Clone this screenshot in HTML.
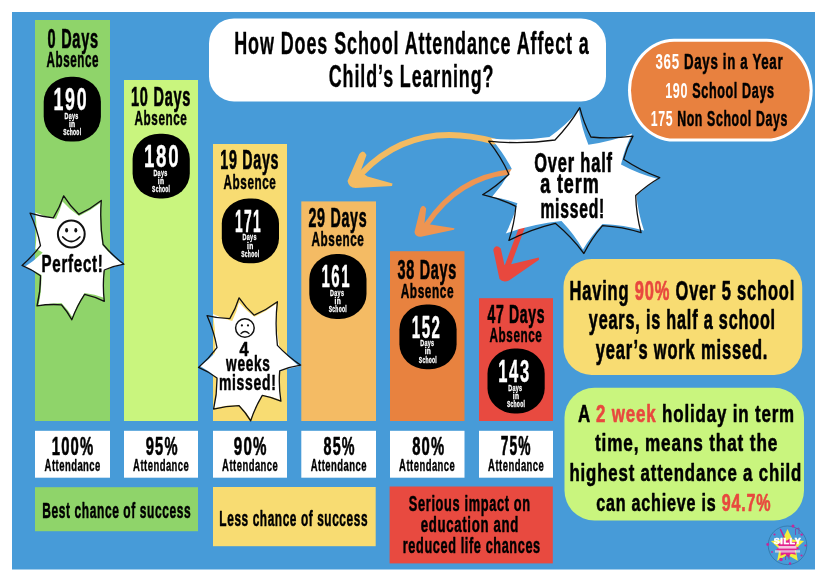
<!DOCTYPE html>
<html><head><meta charset="utf-8"><style>
html,body{margin:0;padding:0;background:#fff;width:827px;height:582px;overflow:hidden}
svg{display:block;will-change:transform}
text{font-family:"Liberation Sans",sans-serif;font-weight:bold;stroke-linejoin:round;paint-order:stroke}
</style></head><body>
<svg width="827" height="582" viewBox="0 0 827 582">
<rect x="0" y="0" width="827" height="582" fill="#fff"/>
<rect x="12" y="12" width="803" height="557.5" fill="#479bd8"/>
<!-- columns -->
<rect x="35" y="20" width="75" height="401" fill="#8fd46a"/>
<rect x="124" y="80" width="74" height="341" fill="#c9f57e"/>
<rect x="213" y="144" width="74" height="277" fill="#f8dc72"/>
<rect x="301.3" y="201.4" width="74.7" height="219.6" fill="#f4bb64"/>
<rect x="390" y="251.2" width="74.5" height="169.8" fill="#e8823f"/>
<rect x="479" y="298.2" width="74" height="122.8" fill="#e84a40"/>
<!-- attendance boxes -->
<rect x="35" y="430.8" width="75" height="46.9" fill="#fff"/>
<rect x="124" y="430.8" width="74" height="46.9" fill="#fff"/>
<rect x="213" y="430.8" width="74" height="46.9" fill="#fff"/>
<rect x="301.3" y="430.8" width="74.7" height="46.9" fill="#fff"/>
<rect x="390" y="430.8" width="74.5" height="46.9" fill="#fff"/>
<rect x="479" y="430.8" width="74" height="46.9" fill="#fff"/>
<!-- labels -->
<rect x="35" y="487.2" width="163" height="44" fill="#8fd46a"/>
<rect x="213" y="487" width="162.7" height="59.2" fill="#f8dc72"/>
<rect x="389.6" y="486.5" width="163.2" height="76.9" fill="#e84a40"/>
<!-- title -->
<rect x="209" y="18.4" width="397" height="83" rx="25" fill="#fff"/>
<!-- pill -->
<rect x="628" y="38.8" width="184.7" height="102.8" rx="46" ry="51.4" fill="#fff"/>
<rect x="631" y="41.8" width="178.7" height="96.8" rx="43" ry="48.4" fill="#e8813f"/>
<!-- info boxes -->
<rect x="563.5" y="259" width="238.7" height="116" rx="28" fill="#f8dc72"/>
<rect x="564.5" y="387.7" width="239.5" height="132.8" rx="30" fill="#c9f57e"/>

<path d="M494,141.5 Q413.2,119.3 362,173" fill="none" stroke="#f3bb62" stroke-width="6" stroke-linecap="round"/><path d="M359.3,154 Q363.5,148.5 366.5,155 L360.5,171.5 L367.5,176.5 L392.5,183.5 L392,186 L355.5,188 Q349,188 347.5,181 Z" fill="#f3bb62"/><path d="M510.5,171.8 Q458,177.5 427,224" fill="none" stroke="#ee9552" stroke-width="5.2" stroke-linecap="round"/><path d="M420.3,208.5 Q423,203 426.2,208.5 L424.5,223 L430.5,224.5 L454.5,228.2 L454,229.8 L421,236.8 Q415,237 414.5,232 Z" fill="#ee9552"/><path d="M524,222 L507.5,266" fill="none" stroke="#e8483e" stroke-width="5.6" stroke-linecap="round"/><path d="M493.3,250 Q495.5,243.5 500.8,248.5 L504.5,265 L512,264 L538.8,257.6 L539,259.8 L509,280.5 Q503,283 499.5,279 Z" fill="#e8483e"/>
<path d="M578.9,110.3 Q581.6,128.1 588.4,144.7 Q611.0,141.7 632.2,133.5 Q624.7,148.3 621.0,164.5 Q638.6,174.0 658.0,179.0 Q646.3,186.0 636.5,195.5 Q638.1,213.4 644.0,230.5 Q623.6,224.8 602.5,224.0 Q591.2,235.6 583.0,249.5 Q574.0,234.0 561.5,221.0 Q532.9,223.9 505.8,233.4 Q513.4,219.0 517.4,203.2 Q505.0,198.6 491.9,197.1 Q503.5,184.1 511.7,168.7 Q503.2,152.4 491.0,138.5 Q520.3,141.3 549.4,137.1 Q565.8,125.5 578.9,110.3Z" fill="#fff"/><path d="M579.8,107.7 Q583.6,123.0 590.9,137.0 Q612.0,139.1 633.0,136.1 Q626.9,147.1 623.6,159.3 Q640.5,170.7 659.7,177.7 Q646.6,185.2 635.7,195.5 Q636.2,214.4 641.1,232.6 Q622.2,226.8 602.5,225.6 Q591.5,238.4 583.9,253.5 Q571.4,236.7 555.3,223.3 Q531.1,229.1 508.9,240.4 Q514.4,223.8 515.9,206.3 Q499.9,198.5 482.6,194.7 Q497.0,186.0 508.9,174.2 Q500.8,156.5 488.7,141.2 Q521.9,144.6 555.0,140.0 Q569.3,125.3 579.8,107.7Z" fill="none" stroke="#111" stroke-width="1.3" stroke-linejoin="round"/>
<path d="M62.5,201.4 Q69.9,209.7 79.0,216.0 Q90.6,210.6 100.6,202.7 Q98.9,224.0 102.3,245.0 Q111.3,255.8 122.6,264.2 Q112.6,266.5 103.5,271.0 Q102.1,284.4 104.0,297.8 Q94.6,294.2 84.6,293.0 Q77.0,304.3 72.3,317.0 Q67.7,309.3 61.4,303.0 Q49.8,303.1 38.5,306.0 Q41.9,290.7 41.5,275.0 Q33.5,270.0 24.5,267.0 Q34.5,260.8 42.7,252.4 Q39.3,250.3 35.4,249.0 Q37.6,230.8 35.4,212.5 Q45.3,216.9 55.9,218.9 Q60.2,210.5 62.5,201.4Z" fill="#fff"/><path d="M63.7,195.8 Q70.1,206.0 78.8,214.3 Q90.9,208.7 101.3,200.4 Q99.6,222.6 103.1,244.5 Q112.4,255.6 124.0,264.2 Q113.8,265.9 104.3,270.0 Q102.4,285.6 104.3,301.3 Q94.9,296.6 84.6,294.3 Q76.7,306.3 71.8,319.8 Q67.5,311.7 61.4,304.8 Q49.1,303.9 37.0,305.9 Q40.6,291.1 40.5,275.8 Q31.9,269.5 22.0,265.4 Q32.4,256.6 40.5,245.6 Q37.2,228.8 30.1,213.2 Q41.4,216.9 53.3,217.8 Q59.8,207.4 63.7,195.8Z" fill="none" stroke="#111" stroke-width="1.3" stroke-linejoin="round"/>
<path d="M239.0,302.5 Q245.8,310.5 254.4,316.7 Q266.2,311.5 276.4,303.7 Q275.3,325.0 279.2,346.0 Q287.9,357.3 299.0,366.2 Q288.7,367.9 279.0,372.0 Q278.3,386.1 281.0,400.0 Q271.9,396.4 262.3,395.0 Q255.1,406.3 250.7,419.0 Q245.7,411.3 239.1,405.0 Q226.4,405.0 214.0,408.0 Q217.3,393.2 217.0,378.0 Q209.2,371.0 200.0,366.0 Q208.3,360.4 215.0,353.0 Q216.3,333.4 213.0,314.0 Q222.2,318.6 232.2,320.9 Q236.7,312.1 239.0,302.5Z" fill="#fff"/><path d="M239.1,297.8 Q245.6,307.4 254.2,315.2 Q266.6,309.8 277.4,301.7 Q274.8,323.5 277.4,345.4 Q287.8,356.6 300.6,365.1 Q289.8,366.7 279.7,370.9 Q278.5,386.1 280.9,401.1 Q271.9,397.1 262.3,395.3 Q255.0,407.4 250.7,420.8 Q245.8,412.6 239.1,405.7 Q226.1,405.9 213.6,409.2 Q217.2,393.8 217.0,377.9 Q208.4,371.5 198.5,367.4 Q208.9,358.7 217.0,347.7 Q214.0,331.1 207.1,315.7 Q218.3,318.6 229.8,318.7 Q235.7,308.8 239.1,297.8Z" fill="none" stroke="#111" stroke-width="1.3" stroke-linejoin="round"/>
<circle cx="71.3" cy="234" r="13.4" fill="none" stroke="#111" stroke-width="2"/><ellipse cx="66.6" cy="230.2" rx="1.5" ry="2.2" fill="#111"/><ellipse cx="75.8" cy="230.2" rx="1.5" ry="2.2" fill="#111"/><path d="M62.8,237 Q71.3,246 79.8,237" fill="none" stroke="#111" stroke-width="1.8" stroke-linecap="round"/><circle cx="244.9" cy="328" r="9.3" fill="none" stroke="#111" stroke-width="1.5"/><circle cx="241.9" cy="325.4" r="1.1" fill="#111"/><circle cx="248" cy="325.4" r="1.1" fill="#111"/><path d="M241,333.5 Q245,329.5 249,333.5" fill="none" stroke="#111" stroke-width="1.3" stroke-linecap="round"/>
<circle cx="787.5" cy="545.3" r="19.3" fill="none" stroke="#2f6e9e" stroke-width="0.7"/><path d="M787.5,529.0 L792.5,539.6 L804.1,541.1 L795.6,549.1 L797.8,560.7 L787.5,555.0 L777.2,560.7 L779.4,549.1 L770.9,541.1 L782.5,539.6Z" fill="#f4ee3c"/><path d="M799.4,548.5 L794.7,550.5 L795.9,554.8 L790.8,553.7 L788.4,557.7 L785.3,554.0 L780.5,555.8 L780.9,551.3 L775.9,550.0 L779.5,546.8 L776.7,543.1 L781.9,542.6 L782.6,538.2 L786.9,540.7 L790.8,537.7 L792.2,542.0 L797.4,541.8 L795.3,545.8Z" fill="#e3238e"/><text x="787.5" y="543.8" text-anchor="middle" font-family="Liberation Sans" font-weight="bold" font-size="8.5" fill="#fff" stroke="#fff" stroke-width="0.6" transform="translate(787.5 0) scale(1.05 1) translate(-787.5 0)" letter-spacing="0.6">SILLY</text><rect x="778.5" y="546" width="18" height="2.6" fill="#f7d6ea" opacity="0.9"/><rect x="775" y="550.2" width="25" height="2.4" fill="#e9e3ee" opacity="0.7"/><path d="M780.5,529.5 L784,537" stroke="#c0268f" stroke-width="1.6" stroke-linecap="round"/><path d="M795.5,535 L795.5,529 L799,528 L799,534" fill="none" stroke="#8a3aa0" stroke-width="0.8"/><path d="M785.5,560 L785.5,556 L789,555.5 L789,559.5" fill="none" stroke="#8a3aa0" stroke-width="0.8"/><circle cx="793.0" cy="526.0" r="1.5" fill="#c8269a"/><circle cx="801.7" cy="534.6" r="1.2" fill="#c8269a"/><circle cx="767.7" cy="544.5" r="1.4" fill="#c8269a"/><circle cx="805.5" cy="545.5" r="1.1" fill="#c8269a"/><circle cx="781.0" cy="559.5" r="1.8" fill="#c8269a"/><circle cx="790.0" cy="563.5" r="1.2" fill="#c8269a"/><circle cx="774.5" cy="534.5" r="1.1" fill="#c8269a"/><circle cx="801.5" cy="555.5" r="1.1" fill="#c8269a"/><circle cx="772.0" cy="552.0" r="0.9" fill="#c8269a"/>
<rect x="43.70" y="76.80" width="57.2" height="64.8" rx="27" ry="25" fill="#000"/><rect x="132.60" y="133.70" width="57.2" height="64.8" rx="27" ry="25" fill="#000"/><rect x="221.80" y="198.50" width="57.2" height="64.8" rx="27" ry="25" fill="#000"/><rect x="309.30" y="254.10" width="57.2" height="64.8" rx="27" ry="25" fill="#000"/><rect x="399.40" y="304.40" width="57.2" height="64.8" rx="27" ry="25" fill="#000"/><rect x="487.50" y="348.60" width="57.2" height="64.8" rx="27" ry="25" fill="#000"/>
<text transform="translate(47.62 47.80) scale(0.5375 1)" font-size="27.00" letter-spacing="1.35" stroke-width="0.67"><tspan fill="#000000" stroke="#000000">0 Days</tspan></text>
<text transform="translate(46.55 66.70) scale(0.5470 1)" font-size="21.23" letter-spacing="1.06" stroke-width="0.53"><tspan fill="#000000" stroke="#000000">Absence</tspan></text>
<text transform="translate(131.03 105.60) scale(0.5388 1)" font-size="27.00" letter-spacing="1.35" stroke-width="0.67"><tspan fill="#000000" stroke="#000000">10 Days</tspan></text>
<text transform="translate(134.55 124.50) scale(0.5621 1)" font-size="20.82" letter-spacing="1.04" stroke-width="0.52"><tspan fill="#000000" stroke="#000000">Absence</tspan></text>
<text transform="translate(220.24 169.40) scale(0.5352 1)" font-size="26.71" letter-spacing="1.34" stroke-width="0.67"><tspan fill="#000000" stroke="#000000">19 Days</tspan></text>
<text transform="translate(223.55 188.50) scale(0.5621 1)" font-size="20.82" letter-spacing="1.04" stroke-width="0.52"><tspan fill="#000000" stroke="#000000">Absence</tspan></text>
<text transform="translate(308.47 226.60) scale(0.5283 1)" font-size="27.00" letter-spacing="1.35" stroke-width="0.68"><tspan fill="#000000" stroke="#000000">29 Days</tspan></text>
<text transform="translate(311.55 245.50) scale(0.5621 1)" font-size="20.82" letter-spacing="1.04" stroke-width="0.52"><tspan fill="#000000" stroke="#000000">Absence</tspan></text>
<text transform="translate(397.61 278.80) scale(0.5325 1)" font-size="27.00" letter-spacing="1.35" stroke-width="0.68"><tspan fill="#000000" stroke="#000000">38 Days</tspan></text>
<text transform="translate(400.64 297.60) scale(0.5624 1)" font-size="21.10" letter-spacing="1.05" stroke-width="0.53"><tspan fill="#000000" stroke="#000000">Absence</tspan></text>
<text transform="translate(487.42 323.40) scale(0.5261 1)" font-size="26.67" letter-spacing="1.33" stroke-width="0.67"><tspan fill="#000000" stroke="#000000">47 Days</tspan></text>
<text transform="translate(489.55 342.10) scale(0.5773 1)" font-size="20.27" letter-spacing="1.01" stroke-width="0.51"><tspan fill="#000000" stroke="#000000">Absence</tspan></text>
<text transform="translate(53.43 109.90) scale(0.5663 1)" font-size="31.43" letter-spacing="3.14" stroke-width="0.45"><tspan fill="#ffffff" stroke="#ffffff">190</tspan></text>
<text transform="translate(64.52 118.70) scale(0.5904 1)" font-size="9.20" letter-spacing="0.46" stroke-width="0.30"><tspan fill="#ffffff" stroke="#ffffff">Days</tspan></text>
<text transform="translate(68.93 126.80) scale(0.7246 1)" font-size="9.20" letter-spacing="0.46" stroke-width="0.30"><tspan fill="#ffffff" stroke="#ffffff">in</tspan></text>
<text transform="translate(63.15 134.90) scale(0.5435 1)" font-size="9.20" letter-spacing="0.46" stroke-width="0.30"><tspan fill="#ffffff" stroke="#ffffff">School</tspan></text>
<text transform="translate(143.88 166.80) scale(0.5932 1)" font-size="31.43" letter-spacing="3.14" stroke-width="0.45"><tspan fill="#ffffff" stroke="#ffffff">180</tspan></text>
<text transform="translate(153.42 175.60) scale(0.5904 1)" font-size="9.20" letter-spacing="0.46" stroke-width="0.30"><tspan fill="#ffffff" stroke="#ffffff">Days</tspan></text>
<text transform="translate(157.83 183.70) scale(0.7246 1)" font-size="9.20" letter-spacing="0.46" stroke-width="0.30"><tspan fill="#ffffff" stroke="#ffffff">in</tspan></text>
<text transform="translate(152.05 191.80) scale(0.5435 1)" font-size="9.20" letter-spacing="0.46" stroke-width="0.30"><tspan fill="#ffffff" stroke="#ffffff">School</tspan></text>
<text transform="translate(234.97 231.60) scale(0.4335 1)" font-size="31.88" letter-spacing="3.19" stroke-width="0.45"><tspan fill="#ffffff" stroke="#ffffff">171</tspan></text>
<text transform="translate(242.62 240.40) scale(0.5904 1)" font-size="9.20" letter-spacing="0.46" stroke-width="0.30"><tspan fill="#ffffff" stroke="#ffffff">Days</tspan></text>
<text transform="translate(247.03 248.50) scale(0.7246 1)" font-size="9.20" letter-spacing="0.46" stroke-width="0.30"><tspan fill="#ffffff" stroke="#ffffff">in</tspan></text>
<text transform="translate(241.25 256.60) scale(0.5435 1)" font-size="9.20" letter-spacing="0.46" stroke-width="0.30"><tspan fill="#ffffff" stroke="#ffffff">School</tspan></text>
<text transform="translate(321.50 287.20) scale(0.4773 1)" font-size="31.43" letter-spacing="3.14" stroke-width="0.45"><tspan fill="#ffffff" stroke="#ffffff">161</tspan></text>
<text transform="translate(330.12 296.00) scale(0.5904 1)" font-size="9.20" letter-spacing="0.46" stroke-width="0.30"><tspan fill="#ffffff" stroke="#ffffff">Days</tspan></text>
<text transform="translate(334.53 304.10) scale(0.7246 1)" font-size="9.20" letter-spacing="0.46" stroke-width="0.30"><tspan fill="#ffffff" stroke="#ffffff">in</tspan></text>
<text transform="translate(328.75 312.20) scale(0.5435 1)" font-size="9.20" letter-spacing="0.46" stroke-width="0.30"><tspan fill="#ffffff" stroke="#ffffff">School</tspan></text>
<text transform="translate(411.79 337.50) scale(0.4800 1)" font-size="31.43" letter-spacing="3.14" stroke-width="0.45"><tspan fill="#ffffff" stroke="#ffffff">152</tspan></text>
<text transform="translate(420.22 346.30) scale(0.5904 1)" font-size="9.20" letter-spacing="0.46" stroke-width="0.30"><tspan fill="#ffffff" stroke="#ffffff">Days</tspan></text>
<text transform="translate(424.63 354.40) scale(0.7246 1)" font-size="9.20" letter-spacing="0.46" stroke-width="0.30"><tspan fill="#ffffff" stroke="#ffffff">in</tspan></text>
<text transform="translate(418.85 362.50) scale(0.5435 1)" font-size="9.20" letter-spacing="0.46" stroke-width="0.30"><tspan fill="#ffffff" stroke="#ffffff">School</tspan></text>
<text transform="translate(498.21 381.70) scale(0.5267 1)" font-size="31.43" letter-spacing="3.14" stroke-width="0.45"><tspan fill="#ffffff" stroke="#ffffff">143</tspan></text>
<text transform="translate(508.32 390.50) scale(0.5904 1)" font-size="9.20" letter-spacing="0.46" stroke-width="0.30"><tspan fill="#ffffff" stroke="#ffffff">Days</tspan></text>
<text transform="translate(512.73 398.60) scale(0.7246 1)" font-size="9.20" letter-spacing="0.46" stroke-width="0.30"><tspan fill="#ffffff" stroke="#ffffff">in</tspan></text>
<text transform="translate(506.95 406.70) scale(0.5435 1)" font-size="9.20" letter-spacing="0.46" stroke-width="0.30"><tspan fill="#ffffff" stroke="#ffffff">School</tspan></text>
<text transform="translate(51.71 455.30) scale(0.5613 1)" font-size="26.43" letter-spacing="2.11" stroke-width="0.66"><tspan fill="#000000" stroke="#000000">100%</tspan></text>
<text transform="translate(44.62 470.50) scale(0.5958 1)" font-size="15.89" letter-spacing="0.79" stroke-width="0.40"><tspan fill="#000000" stroke="#000000">Attendance</tspan></text>
<text transform="translate(145.71 455.30) scale(0.5558 1)" font-size="26.43" letter-spacing="2.11" stroke-width="0.66"><tspan fill="#000000" stroke="#000000">95%</tspan></text>
<text transform="translate(133.12 470.50) scale(0.5958 1)" font-size="15.89" letter-spacing="0.79" stroke-width="0.40"><tspan fill="#000000" stroke="#000000">Attendance</tspan></text>
<text transform="translate(233.80 455.30) scale(0.5721 1)" font-size="26.43" letter-spacing="2.11" stroke-width="0.66"><tspan fill="#000000" stroke="#000000">90%</tspan></text>
<text transform="translate(222.12 470.50) scale(0.5958 1)" font-size="15.89" letter-spacing="0.79" stroke-width="0.40"><tspan fill="#000000" stroke="#000000">Attendance</tspan></text>
<text transform="translate(323.57 455.30) scale(0.5423 1)" font-size="26.43" letter-spacing="2.11" stroke-width="0.66"><tspan fill="#000000" stroke="#000000">85%</tspan></text>
<text transform="translate(310.72 470.50) scale(0.5958 1)" font-size="15.89" letter-spacing="0.79" stroke-width="0.40"><tspan fill="#000000" stroke="#000000">Attendance</tspan></text>
<text transform="translate(412.16 455.30) scale(0.5604 1)" font-size="26.43" letter-spacing="2.11" stroke-width="0.66"><tspan fill="#000000" stroke="#000000">80%</tspan></text>
<text transform="translate(399.12 470.50) scale(0.5958 1)" font-size="15.89" letter-spacing="0.79" stroke-width="0.40"><tspan fill="#000000" stroke="#000000">Attendance</tspan></text>
<text transform="translate(500.85 455.30) scale(0.5140 1)" font-size="26.81" letter-spacing="2.14" stroke-width="0.67"><tspan fill="#000000" stroke="#000000">75%</tspan></text>
<text transform="translate(488.12 470.50) scale(0.5958 1)" font-size="15.89" letter-spacing="0.79" stroke-width="0.40"><tspan fill="#000000" stroke="#000000">Attendance</tspan></text>
<text transform="translate(42.26 518.20) scale(0.5398 1)" font-size="22.19" letter-spacing="1.11" stroke-width="0.55"><tspan fill="#000000" stroke="#000000">Best chance of success</tspan></text>
<text transform="translate(219.37 526.00) scale(0.5406 1)" font-size="21.92" letter-spacing="1.10" stroke-width="0.55"><tspan fill="#000000" stroke="#000000">Less chance of success</tspan></text>
<text transform="translate(408.82 511.30) scale(0.5992 1)" font-size="21.37" letter-spacing="1.07" stroke-width="0.53"><tspan fill="#000000" stroke="#000000">Serious impact on</tspan></text>
<text transform="translate(420.87 532.40) scale(0.6179 1)" font-size="21.37" letter-spacing="1.07" stroke-width="0.53"><tspan fill="#000000" stroke="#000000">education and</tspan></text>
<text transform="translate(402.81 553.10) scale(0.5931 1)" font-size="21.37" letter-spacing="1.07" stroke-width="0.53"><tspan fill="#000000" stroke="#000000">reduced life chances</tspan></text>
<text transform="translate(234.24 54.40) scale(0.5754 1)" font-size="31.23" letter-spacing="1.56" stroke-width="0.40"><tspan fill="#000000" stroke="#000000">How Does School Attendance Affect a</tspan></text>
<text transform="translate(328.78 87.40) scale(0.5729 1)" font-size="31.23" letter-spacing="1.56" stroke-width="0.40"><tspan fill="#000000" stroke="#000000">Child’s Learning?</tspan></text>
<text transform="translate(655.53 68.50) scale(0.5882 1)" font-size="22.60" letter-spacing="1.13" stroke-width="0.57"><tspan fill="#ffffff" stroke="#ffffff" stroke-width="0">365 </tspan><tspan fill="#000000" stroke="#000000">Days in a Year</tspan></text>
<text transform="translate(665.24 97.50) scale(0.5568 1)" font-size="22.60" letter-spacing="1.13" stroke-width="0.57"><tspan fill="#ffffff" stroke="#ffffff" stroke-width="0">190 </tspan><tspan fill="#000000" stroke="#000000">School Days</tspan></text>
<text transform="translate(650.66 126.10) scale(0.5465 1)" font-size="22.60" letter-spacing="1.13" stroke-width="0.57"><tspan fill="#ffffff" stroke="#ffffff" stroke-width="0">175 </tspan><tspan fill="#000000" stroke="#000000">Non School Days</tspan></text>
<text transform="translate(569.55 300.30) scale(0.5888 1)" font-size="27.95" letter-spacing="1.40" stroke-width="0.70"><tspan fill="#000000" stroke="#000000">Having </tspan><tspan fill="#e8483e" stroke="#e8483e">90%</tspan><tspan fill="#000000" stroke="#000000"> Over 5 school</tspan></text>
<text transform="translate(588.84 328.60) scale(0.5802 1)" font-size="27.95" letter-spacing="1.40" stroke-width="0.70"><tspan fill="#000000" stroke="#000000">years, is half a school</tspan></text>
<text transform="translate(595.74 358.50) scale(0.5903 1)" font-size="27.95" letter-spacing="1.40" stroke-width="0.70"><tspan fill="#000000" stroke="#000000">year’s work missed.</tspan></text>
<text transform="translate(578.09 422.40) scale(0.6890 1)" font-size="24.52" letter-spacing="1.23" stroke-width="0.61"><tspan fill="#000000" stroke="#000000">A </tspan><tspan fill="#e8483e" stroke="#e8483e">2 week</tspan><tspan fill="#000000" stroke="#000000"> holiday in term</tspan></text>
<text transform="translate(595.03 450.70) scale(0.6999 1)" font-size="24.52" letter-spacing="1.23" stroke-width="0.61"><tspan fill="#000000" stroke="#000000">time, means that the</tspan></text>
<text transform="translate(569.52 480.60) scale(0.6847 1)" font-size="24.52" letter-spacing="1.23" stroke-width="0.61"><tspan fill="#000000" stroke="#000000">highest attendance a child</tspan></text>
<text transform="translate(596.16 510.50) scale(0.6564 1)" font-size="24.52" letter-spacing="1.23" stroke-width="0.61"><tspan fill="#000000" stroke="#000000">can achieve is </tspan><tspan fill="#e8483e" stroke="#e8483e">94.7%</tspan></text>
<text transform="translate(534.14 171.50) scale(0.6165 1)" font-size="26.71" letter-spacing="1.34" stroke-width="0.67"><tspan fill="#000000" stroke="#000000">Over half</tspan></text>
<text transform="translate(540.16 192.80) scale(0.6741 1)" font-size="26.71" letter-spacing="1.34" stroke-width="0.67"><tspan fill="#000000" stroke="#000000">a term</tspan></text>
<text transform="translate(540.41 217.60) scale(0.5854 1)" font-size="26.71" letter-spacing="1.34" stroke-width="0.67"><tspan fill="#000000" stroke="#000000">missed!</tspan></text>
<text transform="translate(41.44 271.80) scale(0.6367 1)" font-size="23.70" letter-spacing="1.18" stroke-width="0.59"><tspan fill="#000000" stroke="#000000">Perfect!</tspan></text>
<text transform="translate(239.47 356.00) scale(0.7976 1)" font-size="20.58" letter-spacing="1.03" stroke-width="0.51"><tspan fill="#000000" stroke="#000000">4</tspan></text>
<text transform="translate(226.10 370.90) scale(0.6424 1)" font-size="21.23" letter-spacing="1.06" stroke-width="0.53"><tspan fill="#000000" stroke="#000000">weeks</tspan></text>
<text transform="translate(218.92 389.60) scale(0.6572 1)" font-size="21.23" letter-spacing="1.06" stroke-width="0.53"><tspan fill="#000000" stroke="#000000">missed!</tspan></text>
</svg>
</body></html>
